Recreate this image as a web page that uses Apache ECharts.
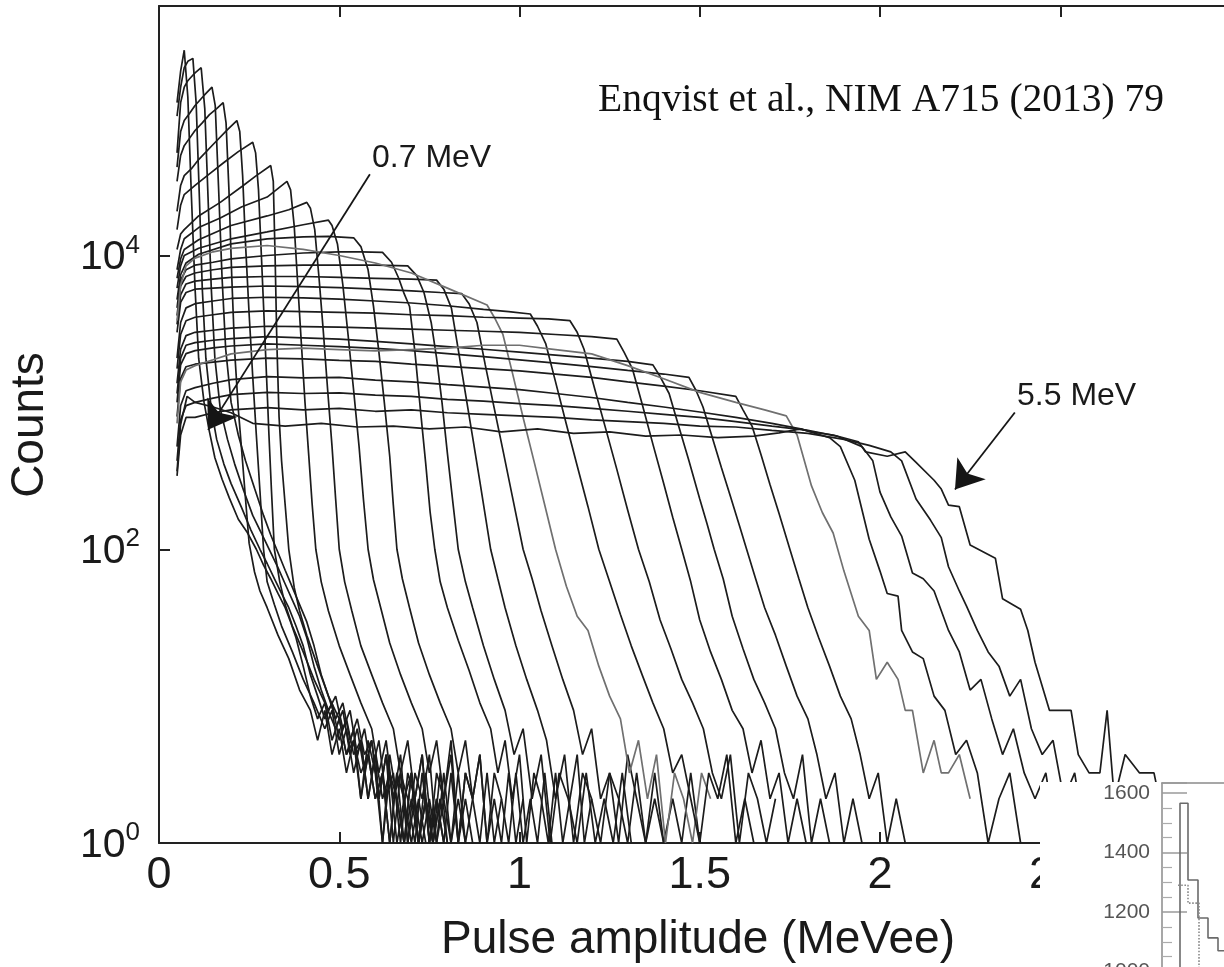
<!DOCTYPE html>
<html>
<head>
<meta charset="utf-8">
<script src="https://cdn.jsdelivr.net/npm/echarts@6/dist/echarts.min.js"></script>
<style>
html,body{margin:0;padding:0;background:#fff;}
#chart{width:1224px;height:967px;}
</style>
</head>
<body>
<div id="chart"></div>
<script>
// ---- Data: pulse-height spectra, [pulse amplitude (MeVee), counts] ----
const curve00 = [[0.05,1.1e5],[0.06,1.8e5],[0.07,2.5e5],[0.08,1.2e5],[0.09,2.5e4],[0.10,6000],[0.11,2000],[0.125,1000],[0.14,630],[0.155,420],[0.175,300],[0.195,224],[0.22,160],[0.245,130],[0.27,100],[0.29,78],[0.31,63],[0.33,50],[0.35,40],[0.365,32],[0.38,25],[0.40,16],[0.42,10],[0.44,7],[0.46,9],[0.48,5],[0.50,7],[0.52,4],[0.54,5],[0.56,3],[0.58,4],[0.60,2],[0.62,3],[0.64,1],[0.66,3],[0.68,2],[0.70,1],[0.72,2],[0.74,1]];
const curve01 = [[0.05,8.9e4],[0.06,1.4e5],[0.07,1.9e5],[0.08,2.1e5],[0.094,2.2e5],[0.103,1.1e5],[0.112,2.5e4],[0.12,6000],[0.13,2000],[0.145,900],[0.16,560],[0.18,380],[0.20,280],[0.23,190],[0.255,135],[0.28,100],[0.30,80],[0.32,63],[0.34,50],[0.36,40],[0.38,30],[0.40,22],[0.42,14],[0.44,10],[0.46,7],[0.48,9],[0.50,5],[0.52,7],[0.54,4],[0.56,5],[0.58,2],[0.60,4],[0.62,2],[0.64,3],[0.66,1],[0.68,2],[0.70,3],[0.72,1],[0.74,2],[0.76,1],[0.78,2],[0.80,1]];
const curve02 = [[0.05,5e4],[0.06,1.1e5],[0.07,1.4e5],[0.08,1.55e5],[0.09,1.65e5],[0.10,1.75e5],[0.117,1.9e5],[0.127,1e5],[0.136,2.5e4],[0.145,6000],[0.155,2000],[0.17,900],[0.19,560],[0.21,380],[0.235,250],[0.26,170],[0.29,120],[0.31,95],[0.33,75],[0.35,58],[0.37,45],[0.39,35],[0.41,25],[0.43,16],[0.45,11],[0.47,8],[0.49,10],[0.51,6],[0.53,8],[0.55,4],[0.57,6],[0.59,3],[0.61,5],[0.63,2],[0.65,3],[0.67,1],[0.69,3],[0.71,2],[0.73,1],[0.75,2],[0.77,1],[0.79,3],[0.81,1],[0.83,2],[0.85,1]];
const curve03 = [[0.05,4e4],[0.06,7e4],[0.07,8.3e4],[0.085,9.3e4],[0.10,1.05e5],[0.125,1.23e5],[0.147,1.4e5],[0.156,1.05e5],[0.165,3e4],[0.175,7000],[0.185,2300],[0.20,1000],[0.22,600],[0.24,400],[0.265,260],[0.29,170],[0.31,125],[0.33,95],[0.35,72],[0.37,55],[0.39,42],[0.41,32],[0.43,22],[0.45,14],[0.47,10],[0.49,7],[0.51,9],[0.53,5],[0.55,7],[0.57,4],[0.59,5],[0.61,2],[0.63,4],[0.65,2],[0.67,3],[0.69,1],[0.71,2],[0.73,4],[0.75,1],[0.77,2],[0.79,1],[0.81,3],[0.83,1],[0.85,2],[0.87,1]];
const curve04 = [[0.05,3.2e4],[0.06,4.8e4],[0.07,5.6e4],[0.085,6.3e4],[0.10,7.1e4],[0.12,8e4],[0.14,9.1e4],[0.16,1e5],[0.178,1.1e5],[0.186,8e4],[0.194,2.8e4],[0.202,7000],[0.21,2200],[0.22,900],[0.23,450],[0.24,220],[0.25,110],[0.265,70],[0.28,52],[0.30,40],[0.33,26],[0.36,18],[0.39,11],[0.42,8],[0.44,5],[0.46,8],[0.48,4],[0.50,6],[0.52,3],[0.54,5],[0.56,2],[0.58,4],[0.60,2],[0.62,3],[0.64,1],[0.66,3],[0.68,1],[0.70,2],[0.72,1],[0.74,3],[0.76,1]];
const curve05 = [[0.05,2e4],[0.06,3e4],[0.07,3.5e4],[0.09,3.9e4],[0.11,4.5e4],[0.15,5.7e4],[0.19,7.2e4],[0.216,8.3e4],[0.224,7e4],[0.232,3.5e4],[0.24,1.2e4],[0.25,4000],[0.26,1500],[0.27,600],[0.28,250],[0.29,100],[0.30,60],[0.32,42],[0.34,30],[0.37,20],[0.40,13],[0.43,9],[0.46,6],[0.48,8],[0.50,4],[0.52,6],[0.54,3],[0.56,5],[0.58,2],[0.60,4],[0.62,1],[0.64,3],[0.66,2],[0.68,1],[0.70,3],[0.72,1],[0.74,2],[0.76,1],[0.78,2]];
const curve06 = [[0.05,1.5e4],[0.06,2.2e4],[0.07,2.6e4],[0.10,3e4],[0.14,3.6e4],[0.18,4.3e4],[0.22,5.1e4],[0.26,5.9e4],[0.268,5e4],[0.276,2.8e4],[0.284,1e4],[0.292,3500],[0.30,1200],[0.305,600],[0.312,250],[0.32,100],[0.335,60],[0.35,42],[0.37,30],[0.40,20],[0.43,13],[0.46,9],[0.49,6],[0.51,8],[0.53,4],[0.55,6],[0.57,3],[0.59,5],[0.61,2],[0.63,4],[0.65,1],[0.67,3],[0.69,2],[0.71,1],[0.73,3],[0.75,1],[0.77,2],[0.79,1]];
const curve07 = [[0.05,1.1e4],[0.06,1.4e4],[0.07,1.5e4],[0.11,1.86e4],[0.17,2.3e4],[0.23,2.95e4],[0.27,3.5e4],[0.31,4.1e4],[0.317,3.2e4],[0.322,1e4],[0.327,2500],[0.333,800],[0.34,400],[0.35,200],[0.36,100],[0.375,55],[0.39,38],[0.41,26],[0.44,16],[0.47,10],[0.50,7],[0.52,4],[0.54,6],[0.56,2],[0.58,5],[0.60,3],[0.62,1],[0.64,4],[0.66,2],[0.68,1],[0.70,3],[0.72,1],[0.74,2],[0.76,1],[0.78,3],[0.80,1]];
const curve08 = [[0.05,8000],[0.06,1.1e4],[0.07,1.3e4],[0.11,1.55e4],[0.17,1.8e4],[0.23,2.15e4],[0.30,2.5e4],[0.355,3.2e4],[0.365,2.8e4],[0.375,1.6e4],[0.385,6300],[0.395,2500],[0.405,1000],[0.415,450],[0.425,200],[0.435,100],[0.45,60],[0.47,38],[0.50,22],[0.53,14],[0.56,9],[0.59,6],[0.61,3],[0.63,5],[0.65,2],[0.67,4],[0.69,1],[0.71,3],[0.73,2],[0.75,4],[0.77,1],[0.79,2],[0.81,1],[0.83,3],[0.85,1],[0.87,2]];
const curve09 = [[0.05,7000],[0.06,9500],[0.07,1.1e4],[0.11,1.28e4],[0.20,1.6e4],[0.30,1.86e4],[0.36,2.05e4],[0.41,2.3e4],[0.42,2.1e4],[0.432,1.5e4],[0.444,7000],[0.456,3000],[0.468,1200],[0.48,500],[0.49,220],[0.50,100],[0.515,60],[0.535,38],[0.56,22],[0.59,14],[0.62,9],[0.65,6],[0.67,3],[0.69,5],[0.71,2],[0.73,4],[0.75,1],[0.77,3],[0.79,2],[0.81,5],[0.83,1],[0.85,3],[0.87,2],[0.89,1],[0.91,3],[0.93,1],[0.95,2]];
const curve10 = [[0.05,6000],[0.06,8500],[0.07,1e4],[0.11,1.12e4],[0.20,1.3e4],[0.30,1.45e4],[0.40,1.62e4],[0.47,1.74e4],[0.48,1.6e4],[0.495,1.2e4],[0.51,6300],[0.525,2800],[0.54,1200],[0.555,500],[0.567,220],[0.58,100],[0.595,62],[0.615,40],[0.64,23],[0.67,14],[0.70,9],[0.73,6],[0.75,3],[0.77,5],[0.79,2],[0.81,4],[0.83,1],[0.85,3],[0.87,2],[0.89,4],[0.91,1],[0.93,2],[0.95,1],[0.97,3],[0.99,1],[1.01,2]];
const curve11 = [[0.05,5000],[0.06,7400],[0.075,8900],[0.11,1.02e4],[0.20,1.2e4],[0.30,1.3e4],[0.40,1.34e4],[0.47,1.35e4],[0.54,1.32e4],[0.56,1.15e4],[0.58,8000],[0.595,4500],[0.61,2200],[0.625,1000],[0.64,430],[0.65,200],[0.66,100],[0.675,63],[0.695,40],[0.72,23],[0.75,14],[0.78,9],[0.81,6],[0.83,3],[0.85,5],[0.87,2],[0.89,4],[0.91,1],[0.93,3],[0.95,2],[0.97,1],[0.99,3],[1.01,1],[1.03,2],[1.05,1],[1.07,3],[1.09,1]];
const curve12 = [[0.05,4400],[0.06,6800],[0.075,8000],[0.10,8600],[0.15,9000],[0.20,9500],[0.30,1e4],[0.40,1.04e4],[0.50,1.06e4],[0.56,1.06e4],[0.62,1.05e4],[0.645,9000],[0.665,7000],[0.68,5500],[0.695,4500],[0.71,2200],[0.725,900],[0.74,380],[0.752,180],[0.765,100],[0.78,60],[0.80,40],[0.83,24],[0.86,15],[0.89,9],[0.92,6],[0.94,3],[0.96,5],[0.98,2],[1.0,4],[1.02,1],[1.04,3],[1.06,2],[1.08,1],[1.10,3],[1.12,1],[1.14,2],[1.16,4],[1.18,1],[1.20,2]];
const curve13 = [[0.05,3900],[0.06,6200],[0.075,7200],[0.10,7600],[0.15,8000],[0.20,8300],[0.30,8500],[0.40,8600],[0.50,8600],[0.60,8600],[0.69,8500],[0.715,7300],[0.735,5600],[0.755,3500],[0.77,2000],[0.785,1000],[0.80,450],[0.815,210],[0.83,100],[0.85,60],[0.87,40],[0.90,22],[0.93,13],[0.96,8],[0.985,4],[1.01,6],[1.035,2],[1.06,4],[1.085,1],[1.11,3],[1.135,2],[1.16,1],[1.185,3],[1.21,1],[1.235,2],[1.26,1],[1.285,3],[1.31,1]];
const curve14 = [[0.05,3400],[0.06,5400],[0.075,6400],[0.10,6700],[0.15,6900],[0.20,7100],[0.30,7200],[0.40,7200],[0.50,7100],[0.60,7000],[0.70,6900],[0.77,6800],[0.79,5900],[0.811,4400],[0.83,2300],[0.85,1150],[0.87,580],[0.89,290],[0.905,170],[0.92,100],[0.94,63],[0.96,40],[0.99,22],[1.02,13],[1.05,8],[1.075,5],[1.10,2],[1.125,4],[1.15,1],[1.175,3],[1.20,2],[1.225,1],[1.25,3],[1.275,2],[1.30,1],[1.325,3],[1.35,1],[1.375,2],[1.40,1]];
const curve15 = [[0.05,3000],[0.06,4800],[0.075,5600],[0.10,5900],[0.15,6000],[0.20,6100],[0.30,6200],[0.40,6150],[0.50,6050],[0.60,5900],[0.70,5750],[0.78,5600],[0.84,5500],[0.86,4700],[0.882,3500],[0.905,1800],[0.93,910],[0.955,460],[0.98,230],[1.01,100],[1.035,63],[1.06,38],[1.09,22],[1.12,13],[1.15,8],[1.175,4],[1.20,6],[1.225,2],[1.25,3],[1.275,1],[1.30,4],[1.325,2],[1.35,1],[1.375,3],[1.40,1],[1.425,2],[1.45,1],[1.475,3],[1.50,1]];
const curve16 = [[0.05,3600],[0.06,6300],[0.075,8500],[0.10,9600],[0.15,1.06e4],[0.20,1.12e4],[0.30,1.17e4],[0.40,1.1e4],[0.50,1e4],[0.60,8900],[0.70,7600],[0.80,6000],[0.91,4600],[0.93,3800],[0.954,2900],[0.98,1600],[1.01,790],[1.04,400],[1.07,200],[1.10,100],[1.13,56],[1.16,35],[1.19,28],[1.22,16],[1.25,10],[1.28,7],[1.305,3],[1.33,5],[1.355,2],[1.38,4],[1.405,1],[1.43,3],[1.455,2],[1.48,1],[1.505,3],[1.53,2]];
const curve17 = [[0.05,2000],[0.06,3500],[0.075,4400],[0.10,4700],[0.15,4900],[0.20,5100],[0.30,5200],[0.40,5150],[0.50,5050],[0.60,4900],[0.70,4750],[0.80,4550],[0.90,4300],[0.97,4150],[1.03,4000],[1.05,3300],[1.073,2500],[1.10,1380],[1.13,710],[1.16,370],[1.19,195],[1.22,100],[1.25,60],[1.28,36],[1.31,22],[1.34,14],[1.37,9],[1.40,6],[1.425,3],[1.45,4],[1.475,2],[1.50,1],[1.525,3],[1.55,2],[1.575,4],[1.60,1],[1.625,2],[1.65,1]];
const curve18 = [[0.05,1700],[0.06,2900],[0.075,3600],[0.10,3800],[0.15,3950],[0.20,4100],[0.30,4200],[0.40,4150],[0.50,4100],[0.60,4050],[0.70,3950],[0.80,3900],[0.90,3800],[1.0,3750],[1.08,3700],[1.14,3600],[1.16,3000],[1.179,2300],[1.21,1200],[1.24,650],[1.27,350],[1.30,185],[1.33,100],[1.36,60],[1.39,33],[1.42,21],[1.45,13],[1.48,9],[1.51,6],[1.535,3],[1.56,2],[1.585,4],[1.61,1],[1.635,3],[1.66,2],[1.685,1],[1.71,2]];
const curve19 = [[0.05,1350],[0.06,2300],[0.075,2850],[0.10,3000],[0.15,3100],[0.20,3200],[0.30,3300],[0.40,3280],[0.50,3250],[0.60,3200],[0.70,3150],[0.80,3100],[0.90,3050],[1.0,3000],[1.10,2900],[1.20,2800],[1.27,2700],[1.29,2200],[1.313,1700],[1.34,980],[1.37,520],[1.40,280],[1.425,165],[1.45,100],[1.475,60],[1.50,33],[1.53,20],[1.56,13],[1.59,8],[1.62,6],[1.645,3],[1.67,5],[1.695,2],[1.72,3],[1.745,1],[1.77,2],[1.795,1]];
const curve20 = [[0.05,1150],[0.06,2000],[0.075,2450],[0.10,2550],[0.15,2650],[0.20,2720],[0.30,2800],[0.40,2750],[0.50,2700],[0.60,2600],[0.70,2500],[0.80,2400],[0.90,2300],[1.0,2200],[1.10,2100],[1.20,2000],[1.30,1900],[1.37,1800],[1.39,1500],[1.415,1150],[1.44,710],[1.47,400],[1.50,220],[1.52,150],[1.54,100],[1.565,63],[1.59,35],[1.62,21],[1.65,13],[1.68,9],[1.71,6],[1.735,3],[1.76,2],[1.785,4],[1.81,1],[1.835,2],[1.86,1]];
const curve21 = [[0.05,1000],[0.06,1800],[0.075,2150],[0.10,2250],[0.15,2350],[0.20,2420],[0.30,2500],[0.40,2450],[0.50,2400],[0.60,2330],[0.70,2250],[0.80,2150],[0.90,2050],[1.0,1950],[1.10,1850],[1.20,1750],[1.30,1650],[1.40,1560],[1.47,1480],[1.49,1200],[1.509,930],[1.535,575],[1.56,360],[1.585,230],[1.61,145],[1.63,100],[1.655,63],[1.68,40],[1.71,26],[1.74,16],[1.77,10],[1.80,7],[1.825,4],[1.85,2],[1.875,3],[1.90,1],[1.925,2],[1.95,1]];
const curve22 = [[0.05,800],[0.06,1450],[0.075,1750],[0.10,1820],[0.15,1880],[0.20,1940],[0.30,2000],[0.40,1980],[0.50,1930],[0.60,1900],[0.70,1820],[0.80,1760],[0.90,1700],[1.0,1640],[1.10,1560],[1.20,1480],[1.30,1380],[1.40,1290],[1.50,1200],[1.60,1100],[1.62,890],[1.645,690],[1.67,440],[1.695,275],[1.72,175],[1.75,100],[1.775,63],[1.80,40],[1.83,25],[1.86,16],[1.89,10],[1.92,7],[1.945,4],[1.97,2],[1.995,3],[2.02,1],[2.045,2],[2.07,1]];
const curve23 = [[0.05,720],[0.06,1380],[0.075,1660],[0.10,1780],[0.15,1950],[0.20,2140],[0.30,2290],[0.40,2340],[0.50,2290],[0.60,2240],[0.70,2290],[0.80,2340],[0.90,2450],[1.0,2450],[1.10,2290],[1.20,2140],[1.30,1780],[1.40,1450],[1.50,1170],[1.60,1000],[1.68,890],[1.74,810],[1.77,600],[1.81,270],[1.84,178],[1.87,129],[1.90,71],[1.94,35],[1.97,28],[1.99,13],[2.02,17],[2.05,13],[2.07,8],[2.09,8],[2.12,3],[2.15,5],[2.17,3],[2.19,3],[2.22,4],[2.25,2]];
const curve24 = [[0.05,500],[0.06,950],[0.075,1200],[0.10,1260],[0.15,1350],[0.20,1430],[0.30,1500],[0.40,1470],[0.50,1480],[0.60,1420],[0.70,1380],[0.80,1320],[0.90,1270],[1.0,1220],[1.10,1150],[1.20,1080],[1.30,1000],[1.40,930],[1.50,860],[1.60,790],[1.70,720],[1.78,660],[1.86,575],[1.89,500],[1.93,295],[1.97,117],[2.0,71],[2.02,50],[2.05,48],[2.06,28],[2.09,20],[2.12,18],[2.15,10],[2.18,8],[2.21,4],[2.24,5],[2.27,3],[2.30,1],[2.33,2],[2.36,3],[2.39,1]];
const curve25 = [[0.05,400],[0.06,760],[0.075,950],[0.10,1000],[0.15,1070],[0.20,1130],[0.30,1170],[0.40,1150],[0.50,1160],[0.60,1120],[0.70,1100],[0.80,1050],[0.90,1020],[1.0,980],[1.10,950],[1.20,910],[1.30,870],[1.40,830],[1.50,790],[1.60,740],[1.70,690],[1.80,645],[1.88,590],[1.95,500],[1.98,400],[2.0,245],[2.03,166],[2.06,123],[2.09,69],[2.12,63],[2.15,52],[2.19,28],[2.22,20],[2.25,11],[2.28,13],[2.31,7],[2.34,4],[2.37,6],[2.40,3],[2.43,2],[2.46,3],[2.49,1]];
const curve26 = [[0.05,316],[0.06,600],[0.075,790],[0.10,790],[0.15,850],[0.20,890],[0.30,920],[0.40,890],[0.50,910],[0.60,870],[0.70,890],[0.80,850],[0.90,830],[1.0,810],[1.10,790],[1.20,760],[1.30,740],[1.40,720],[1.50,690],[1.60,680],[1.70,645],[1.80,615],[1.90,560],[1.97,510],[2.03,460],[2.06,400],[2.10,220],[2.14,158],[2.17,120],[2.19,76],[2.22,52],[2.24,41],[2.27,28],[2.30,20],[2.33,16],[2.36,10],[2.39,13],[2.42,6],[2.45,4],[2.48,5],[2.51,2],[2.54,3],[2.57,1],[2.60,2]];
const curve27 = [[0.05,340],[0.06,710],[0.078,1100],[0.10,1000],[0.15,930],[0.20,850],[0.26,720],[0.35,690],[0.45,720],[0.55,680],[0.65,690],[0.75,660],[0.85,680],[0.95,630],[1.05,660],[1.15,615],[1.25,630],[1.35,590],[1.45,600],[1.55,575],[1.65,590],[1.72,620],[1.78,660],[1.81,630],[1.87,600],[1.94,540],[1.96,460],[2.02,430],[2.07,460],[2.10,390],[2.15,295],[2.17,257],[2.19,200],[2.22,195],[2.25,107],[2.32,87],[2.34,46],[2.39,39],[2.41,28],[2.43,17],[2.47,8],[2.53,8],[2.55,4],[2.58,3],[2.61,3],[2.63,8],[2.65,2],[2.68,4],[2.72,3],[2.76,3],[2.80,1],[2.84,2]];
const grayCurves = [16, 23];

// Axis ticks
const yTickValues = [1, 100, 10000];

// Annotation arrows (data coordinates: [MeVee, counts]) - start, tip
const arrow07 = [[0.585, 35700], [0.136, 650]];
const arrow55 = [[2.374, 853], [2.208, 255]];

// Overlapping inset (partial second figure): step histogram values
const insetSolid = [[1.8,1000],[1.8,1566],[2.6,1566],[2.6,1308],[3.6,1308],[3.6,1180],[4.6,1180],[4.6,1113],[5.6,1113],[5.6,1070],[6.2,1070]];
const insetDotted = [[1.6,1290],[2.6,1290],[2.6,1230],[3.7,1230],[3.7,1000]];

const curves = [curve00,curve01,curve02,curve03,curve04,curve05,curve06,curve07,curve08,curve09,curve10,curve11,curve12,curve13,curve14,curve15,curve16,curve17,curve18,curve19,curve20,curve21,curve22,curve23,curve24,curve25,curve26,curve27];

const FONT = 'Liberation Sans';
const AX = '#222';
const chart = echarts.init(document.getElementById('chart'), null, {renderer: 'canvas'});

const series = curves.map(function (d, i) {
  const g = grayCurves.indexOf(i) >= 0;
  return {
    type: 'line', data: d, xAxisIndex: 0, yAxisIndex: 0,
    symbol: 'none', showSymbol: false, silent: true, animation: false,
    lineStyle: {color: g ? '#707070' : '#1c1c1c', width: 1.7},
    z: 2
  };
});

series.push({
  type: 'line', data: [], xAxisIndex: 0, yAxisIndex: 0, silent: true, animation: false,
  markLine: {
    silent: true, animation: false,
    symbol: ['none', 'arrow'], symbolSize: 27,
    lineStyle: {color: '#151515', width: 1.8, type: 'solid'},
    label: {show: false},
    emphasis: {disabled: true},
    data: [
      [{coord: arrow07[0]}, {coord: arrow07[1]}],
      [{coord: arrow55[0]}, {coord: arrow55[1]}]
    ]
  },
  z: 5
});

series.push({
  type: 'line', data: insetSolid, xAxisIndex: 2, yAxisIndex: 1, symbol: 'none', silent: true, animation: false,
  lineStyle: {color: '#6a6a6a', width: 1.6}, z: 120
});
series.push({
  type: 'line', data: insetDotted, xAxisIndex: 2, yAxisIndex: 1, symbol: 'none', silent: true, animation: false,
  lineStyle: {color: '#8a8a8a', width: 1.6, type: 'dotted'}, z: 120
});

const option = {
  animation: false,
  backgroundColor: '#ffffff',
  textStyle: {fontFamily: FONT},
  grid: [
    {left: 159, top: 6, width: 1081.5, height: 837, containLabel: false, outerBoundsMode: 'none'},
    {left: 1162, top: 783, width: 62, height: 188.5, containLabel: false, outerBoundsMode: 'none'}
  ],
  xAxis: [
    {
      gridIndex: 0, type: 'value', min: 0, max: 3, interval: 0.5, position: 'bottom',
      axisLine: {show: true, onZero: false, lineStyle: {color: AX, width: 2}},
      axisTick: {show: true, inside: true, length: 11, lineStyle: {color: AX, width: 2}},
      axisLabel: {show: true, margin: 10, fontSize: 45, fontFamily: FONT, color: '#1a1a1a', hideOverlap: false},
      splitLine: {show: false}
    },
    {
      gridIndex: 0, type: 'value', min: 0, max: 3, interval: 0.5, position: 'top',
      axisLine: {show: true, onZero: false, lineStyle: {color: AX, width: 2}},
      axisTick: {show: true, inside: true, length: 11, lineStyle: {color: AX, width: 2}},
      axisLabel: {show: false}, splitLine: {show: false}
    },
    {
      gridIndex: 1, type: 'value', min: 0, max: 6.2, position: 'top', z: 120,
      axisLine: {show: true, onZero: false, lineStyle: {color: '#8a8a8a', width: 1.5}},
      axisTick: {show: false}, axisLabel: {show: false}, splitLine: {show: false}
    }
  ],
  yAxis: [
    {
      gridIndex: 0, type: 'log', logBase: 10, min: 1, max: 5e5, position: 'left',
      axisLine: {show: true, onZero: false, lineStyle: {color: AX, width: 2}},
      axisTick: {show: true, inside: true, length: 11, lineStyle: {color: AX, width: 2}, customValues: yTickValues},
      minorTick: {show: false},
      splitLine: {show: false},
      axisLabel: {
        show: true, margin: 19, customValues: yTickValues,
        formatter: function (v) {
          const e = Math.round(Math.log10(v));
          if (e % 2 !== 0) return '';
          return '{b|10}{s|' + e + '}';
        },
        rich: {
          b: {fontSize: 41, fontFamily: FONT, color: '#1a1a1a', lineHeight: 46, verticalAlign: 'bottom'},
          s: {fontSize: 26, fontFamily: FONT, color: '#1a1a1a', lineHeight: 26, verticalAlign: 'top'}
        }
      }
    },
    {
      gridIndex: 1, type: 'value', min: 1000, max: 1634, interval: 200, position: 'left', z: 120,
      axisLine: {show: true, onZero: false, lineStyle: {color: '#8a8a8a', width: 1.5}},
      axisTick: {show: true, inside: true, length: 25, lineStyle: {color: '#9a9a9a', width: 1.5}},
      minorTick: {show: true, splitNumber: 4, length: 10, lineStyle: {color: '#ababab', width: 1.2}},
      axisLabel: {show: true, margin: 12, fontSize: 21, fontFamily: FONT, color: '#555', showMaxLabel: false,
        formatter: function (v) { return String(v); }},
      splitLine: {show: false}
    }
  ],
  graphic: [
    {type: 'rect', z: 100, shape: {x: 1040, y: 782, width: 184, height: 185}, style: {fill: '#ffffff'}, silent: true},
    {type: 'text', z: 110, x: 698, y: 940, silent: true,
      style: {text: 'Pulse amplitude (MeVee)', fontSize: 46, fontFamily: FONT, fill: '#1a1a1a', align: 'center', verticalAlign: 'middle', textAlign: 'center', textVerticalAlign: 'middle'}},
    {type: 'text', z: 110, x: 30, y: 425, rotation: Math.PI / 2, silent: true,
      style: {text: 'Counts', fontSize: 46, fontFamily: FONT, fill: '#1a1a1a', align: 'center', verticalAlign: 'middle', textAlign: 'center', textVerticalAlign: 'middle'}},
    {type: 'text', z: 110, x: 598, y: 101, silent: true,
      style: {text: 'Enqvist et al., NIM A715 (2013) 79', fontSize: 39.5, fontFamily: 'Liberation Serif', fill: '#111', align: 'left', verticalAlign: 'middle', textAlign: 'left', textVerticalAlign: 'middle'}},
    {type: 'text', z: 110, x: 372, y: 158, silent: true,
      style: {text: '0.7 MeV', fontSize: 32, fontFamily: FONT, fill: '#1a1a1a', align: 'left', verticalAlign: 'middle', textAlign: 'left', textVerticalAlign: 'middle'}},
    {type: 'text', z: 110, x: 1017, y: 396, silent: true,
      style: {text: '5.5 MeV', fontSize: 32, fontFamily: FONT, fill: '#1a1a1a', align: 'left', verticalAlign: 'middle', textAlign: 'left', textVerticalAlign: 'middle'}}
  ],
  series: series
};
chart.setOption(option);
</script>
</body>
</html>
